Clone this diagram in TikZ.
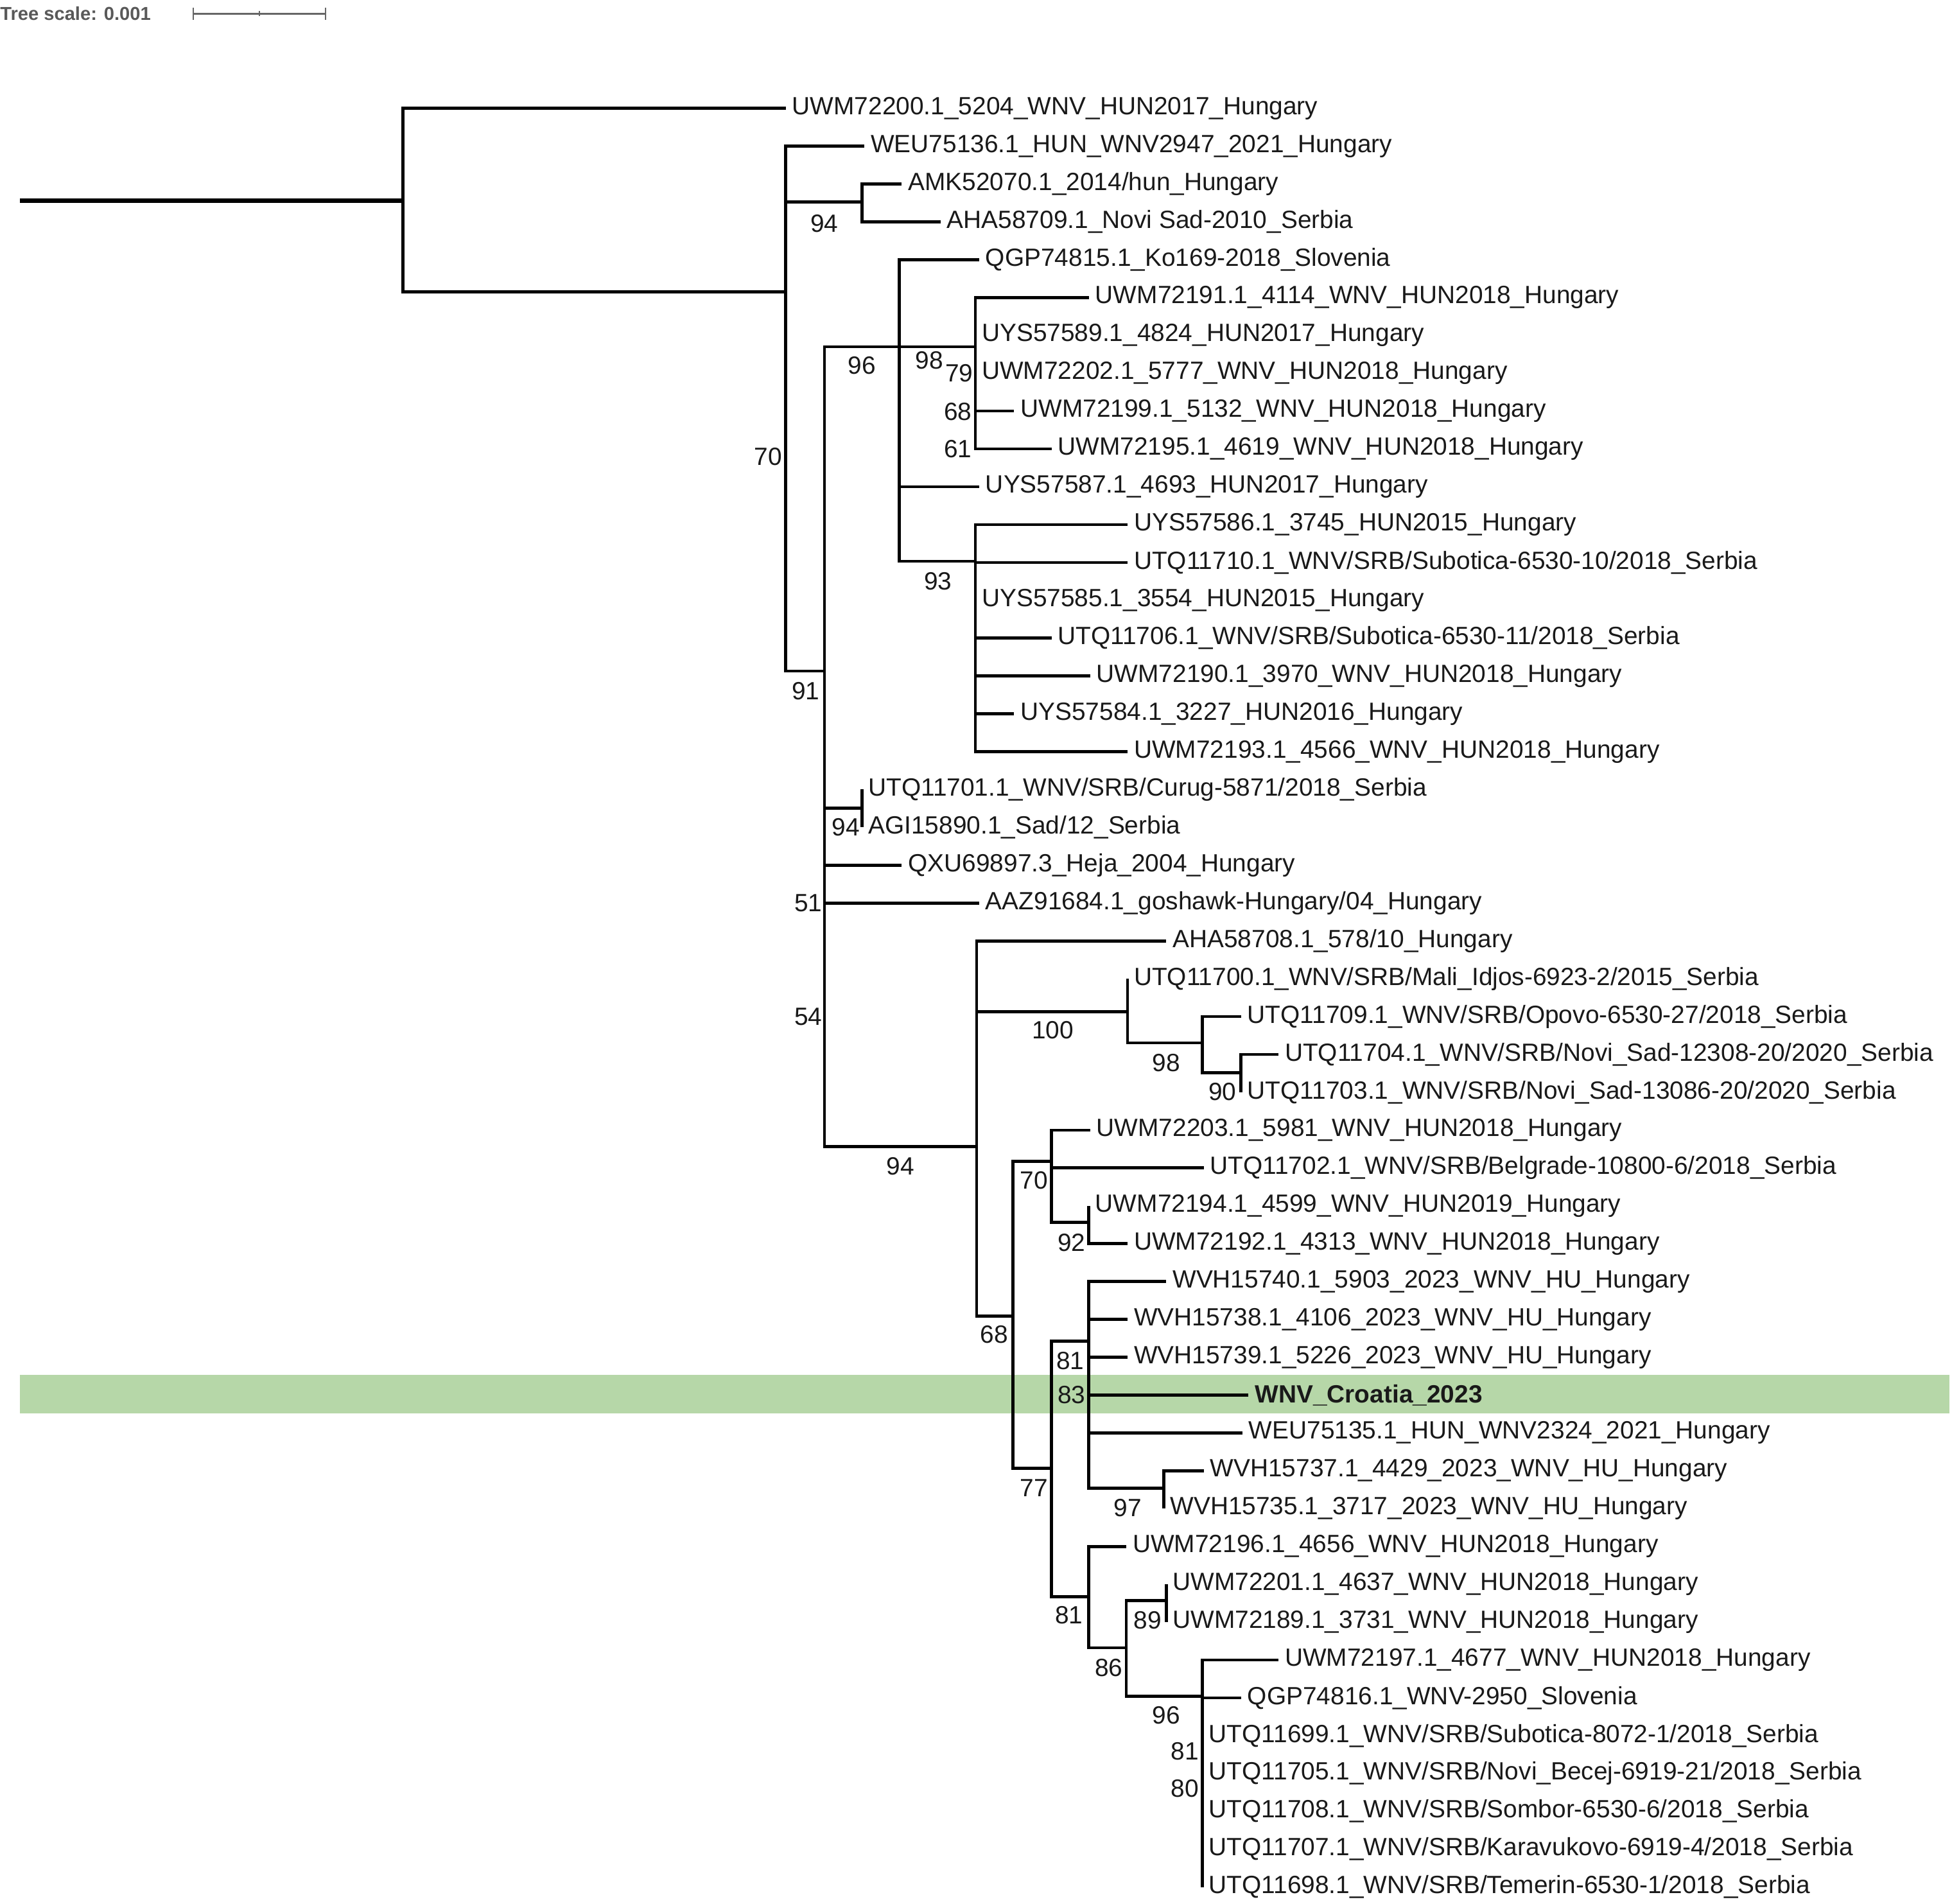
\documentclass[tikz,border=0pt]{standalone}
\usepackage{fontspec}
\setmainfont{Liberation Sans}
\begin{document}
\begin{tikzpicture}[x=1pt,y=-1pt,
  br/.style={line width=2.4pt,black},
  leaf/.style={anchor=west,inner xsep=5pt,inner ysep=0pt,font=\fontsize{20}{22}\selectfont,text=black!90},
  bs/.style={inner sep=0pt,font=\fontsize{20}{22}\selectfont,text=black!90}]
\useasboundingbox (0,0) rectangle (1565,1526);
\fill[green!45!black!30!white,fill=green!50!lime!20!gray!30] (0,0) rectangle (0,0);
\fill[fill={rgb,255:red,182;green,215;blue,168}] (16,1102) rectangle (1563,1133);
% scale bar
\node[anchor=west,inner sep=0pt,font=\bfseries\fontsize{15}{16}\selectfont,text=black!65] (ts) at (0,11) {Tree scale: 0.001};
\coordinate (sb1) at (155,11); \coordinate (sb2) at (261,11);
\draw[black!60,line width=1.2pt] (sb1) -- (sb2);
\draw[black!60,line width=1.2pt] (155,6) -- (155,16) (261,6) -- (261,16) (208,9) -- (208,13);
% internal coordinates
\coordinate (R0) at (16,161);
\coordinate (A) at (323,161);
\coordinate (B) at (630,234);
\coordinate (C) at (691,162);
\coordinate (D) at (661,538);
\coordinate (E) at (721,278);
\coordinate (H) at (782,278);
\coordinate (I) at (782,450);
\coordinate (F) at (691,648);
\coordinate (G) at (783,919);
\coordinate (J) at (904,811);
\coordinate (L) at (964,836);
\coordinate (M) at (995,860);
\coordinate (K) at (812,1055);
\coordinate (N) at (843,931);
\coordinate (U) at (873,980);
\coordinate (O) at (843,1177);
\coordinate (P) at (873,1075);
\coordinate (V) at (933,1193);
\coordinate (Q) at (873,1280);
\coordinate (R) at (903,1321);
\coordinate (S) at (935,1283);
\coordinate (T) at (964,1360);
% leaves: name, index, tip x, text
\newcommand{\lf}[4]{\node[leaf] (#1) at (#3,{86.8+30.34*#2}) {#4};}
\lf{l0}{0}{630}{UWM72200.1\_5204\_WNV\_HUN2017\_Hungary}
\lf{l1}{1}{693}{WEU75136.1\_HUN\_WNV2947\_2021\_Hungary}
\lf{l2}{2}{723}{AMK52070.1\_2014/hun\_Hungary}
\lf{l3}{3}{754}{AHA58709.1\_Novi Sad-2010\_Serbia}
\lf{l4}{4}{785}{QGP74815.1\_Ko169-2018\_Slovenia}
\lf{l5}{5}{873}{UWM72191.1\_4114\_WNV\_HUN2018\_Hungary}
\lf{l6}{6}{782}{UYS57589.1\_4824\_HUN2017\_Hungary}
\lf{l7}{7}{782}{UWM72202.1\_5777\_WNV\_HUN2018\_Hungary}
\lf{l8}{8}{813}{UWM72199.1\_5132\_WNV\_HUN2018\_Hungary}
\lf{l9}{9}{843}{UWM72195.1\_4619\_WNV\_HUN2018\_Hungary}
\lf{l10}{10}{785}{UYS57587.1\_4693\_HUN2017\_Hungary}
\lf{l11}{11}{904}{UYS57586.1\_3745\_HUN2015\_Hungary}
\lf{l12}{12}{904}{UTQ11710.1\_WNV/SRB/Subotica-6530-10/2018\_Serbia}
\lf{l13}{13}{782}{UYS57585.1\_3554\_HUN2015\_Hungary}
\lf{l14}{14}{843}{UTQ11706.1\_WNV/SRB/Subotica-6530-11/2018\_Serbia}
\lf{l15}{15}{874}{UWM72190.1\_3970\_WNV\_HUN2018\_Hungary}
\lf{l16}{16}{813}{UYS57584.1\_3227\_HUN2016\_Hungary}
\lf{l17}{17}{904}{UWM72193.1\_4566\_WNV\_HUN2018\_Hungary}
\lf{l18}{18}{691}{UTQ11701.1\_WNV/SRB/Curug-5871/2018\_Serbia}
\lf{l19}{19}{691}{AGI15890.1\_Sad/12\_Serbia}
\lf{l20}{20}{723}{QXU69897.3\_Heja\_2004\_Hungary}
\lf{l21}{21}{785}{AAZ91684.1\_goshawk-Hungary/04\_Hungary}
\lf{l22}{22}{935}{AHA58708.1\_578/10\_Hungary}
\lf{l23}{23}{904}{UTQ11700.1\_WNV/SRB/Mali\_Idjos-6923-2/2015\_Serbia}
\lf{l24}{24}{995}{UTQ11709.1\_WNV/SRB/Opovo-6530-27/2018\_Serbia}
\lf{l25}{25}{1025}{UTQ11704.1\_WNV/SRB/Novi\_Sad-12308-20/2020\_Serbia}
\lf{l26}{26}{995}{UTQ11703.1\_WNV/SRB/Novi\_Sad-13086-20/2020\_Serbia}
\lf{l27}{27}{874}{UWM72203.1\_5981\_WNV\_HUN2018\_Hungary}
\lf{l28}{28}{965}{UTQ11702.1\_WNV/SRB/Belgrade-10800-6/2018\_Serbia}
\lf{l29}{29}{873}{UWM72194.1\_4599\_WNV\_HUN2019\_Hungary}
\lf{l30}{30}{904}{UWM72192.1\_4313\_WNV\_HUN2018\_Hungary}
\lf{l31}{31}{935}{WVH15740.1\_5903\_2023\_WNV\_HU\_Hungary}
\lf{l32}{32}{904}{WVH15738.1\_4106\_2023\_WNV\_HU\_Hungary}
\lf{l33}{33}{904}{WVH15739.1\_5226\_2023\_WNV\_HU\_Hungary}
\lf{l34}{34}{1001}{\bfseries WNV\_Croatia\_2023}
\lf{l35}{35}{996}{WEU75135.1\_HUN\_WNV2324\_2021\_Hungary}
\lf{l36}{36}{965}{WVH15737.1\_4429\_2023\_WNV\_HU\_Hungary}
\lf{l37}{37}{933}{WVH15735.1\_3717\_2023\_WNV\_HU\_Hungary}
\lf{l38}{38}{903}{UWM72196.1\_4656\_WNV\_HUN2018\_Hungary}
\lf{l39}{39}{935}{UWM72201.1\_4637\_WNV\_HUN2018\_Hungary}
\lf{l40}{40}{935}{UWM72189.1\_3731\_WNV\_HUN2018\_Hungary}
\lf{l41}{41}{1025}{UWM72197.1\_4677\_WNV\_HUN2018\_Hungary}
\lf{l42}{42}{995}{QGP74816.1\_WNV-2950\_Slovenia}
\lf{l43}{43}{964}{UTQ11699.1\_WNV/SRB/Subotica-8072-1/2018\_Serbia}
\lf{l44}{44}{964}{UTQ11705.1\_WNV/SRB/Novi\_Becej-6919-21/2018\_Serbia}
\lf{l45}{45}{964}{UTQ11708.1\_WNV/SRB/Sombor-6530-6/2018\_Serbia}
\lf{l46}{46}{964}{UTQ11707.1\_WNV/SRB/Karavukovo-6919-4/2018\_Serbia}
\lf{l47}{47}{964}{UTQ11698.1\_WNV/SRB/Temerin-6530-1/2018\_Serbia}
% branches
\draw[line width=3.6pt] (R0) -- (A);
\draw[br] (A) |- (l0.west);  \draw[br] (A) |- (B);
\draw[br] (B) |- (l1.west);  \draw[br] (B) |- (C);  \draw[br] (B) |- (D);
\draw[br] (C) |- (l2.west);  \draw[br] (C) |- (l3.west);
\draw[br] (D) |- (E); \draw[br] (D) |- (F); \draw[br] (D) |- (l20.west); \draw[br] (D) |- (l21.west); \draw[br] (D) |- (G);
\draw[br] (E) |- (l4.west); \draw[br] (E) -- (H); \draw[br] (E) |- (l10.west); \draw[br] (E) |- (I);
\foreach \c in {l5,l6,l7,l8,l9} \draw[br] (H) |- (\c.west);
\foreach \c in {l11,l12,l13,l14,l15,l16,l17} \draw[br] (I) |- (\c.west);
\draw[br] (F) |- (l18.west); \draw[br] (F) |- (l19.west);
\draw[br] (G) |- (l22.west); \draw[br] (G) |- (J); \draw[br] (G) |- (K);
\draw[br] (J) |- (l23.west); \draw[br] (J) |- (L);
\draw[br] (L) |- (l24.west); \draw[br] (L) |- (M);
\draw[br] (M) |- (l25.west); \draw[br] (M) |- (l26.west);
\draw[br] (K) |- (N); \draw[br] (K) |- (O);
\draw[br] (N) |- (l27.west); \draw[br] (N) |- (l28.west); \draw[br] (N) |- (U);
\draw[br] (U) |- (l29.west); \draw[br] (U) |- (l30.west);
\draw[br] (O) |- (P); \draw[br] (O) |- (Q);
\foreach \c in {l31,l32,l33,l34,l35} \draw[br] (P) |- (\c.west);
\draw[br] (P) |- (V);
\draw[br] (V) |- (l36.west); \draw[br] (V) |- (l37.west);
\draw[br] (Q) |- (l38.west); \draw[br] (Q) |- (R);
\draw[br] (R) |- (S); \draw[br] (R) |- (T);
\draw[br] (S) |- (l39.west); \draw[br] (S) |- (l40.west);
\foreach \c in {l41,l42,l43,l44,l45,l46,l47} \draw[br] (T) |- (\c.west);
% bootstrap values
\node[bs] (b1) at (616,366) {70};
\node[bs] (b2) at (661,179) {94};
\node[bs] (b3) at (691,293) {96};
\node[bs] (b4) at (745,289) {98};
\node[bs] (b5) at (769,299) {79};
\node[bs] (b6) at (768,330) {68};
\node[bs] (b7) at (768,360) {61};
\node[bs] (b8) at (752,466) {93};
\node[bs] (b9) at (646,554) {91};
\node[bs] (b10) at (678,663) {94};
\node[bs] (b11) at (648,724) {51};
\node[bs] (b12) at (648,815) {54};
\node[bs] (b13) at (722,935) {94};
\node[bs] (b14) at (844,826) {100};
\node[bs] (b15) at (935,852) {98};
\node[bs] (b16) at (980,875) {90};
\node[bs] (b17) at (829,946) {70};
\node[bs] (b18) at (859,996) {92};
\node[bs] (b19) at (797,1070) {68};
\node[bs] (b20) at (858,1091) {81};
\node[bs] (b21) at (859,1118) {83};
\node[bs] (b22) at (829,1193) {77};
\node[bs] (b23) at (904,1209) {97};
\node[bs] (b24) at (857,1295) {81};
\node[bs] (b25) at (889,1337) {86};
\node[bs] (b26) at (920,1299) {89};
\node[bs] (b27) at (935,1375) {96};
\node[bs] (b28) at (950,1404) {81};
\node[bs] (b29) at (950,1434) {80};
\end{tikzpicture}
\end{document}
